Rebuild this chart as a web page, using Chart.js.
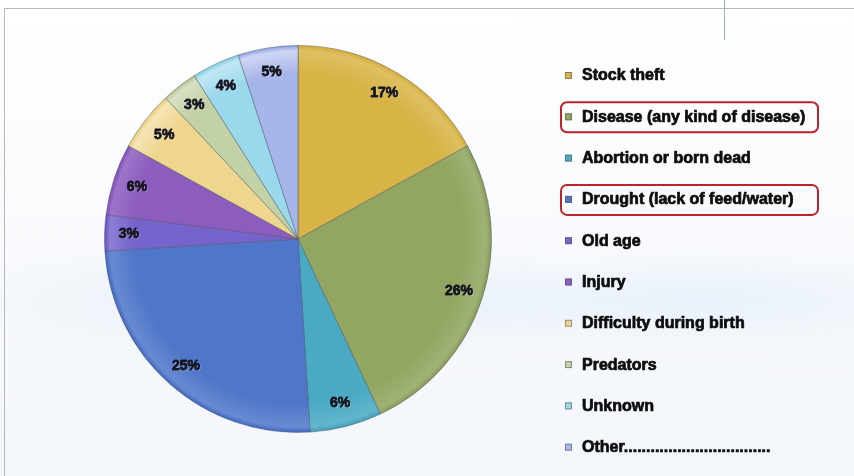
<!DOCTYPE html>
<html>
<head>
<meta charset="utf-8">
<script src="https://cdn.jsdelivr.net/npm/chart.js@4/dist/chart.umd.min.js"></script>
<style>
  html, body { margin: 0; padding: 0; }
  body {
    width: 854px; height: 476px; overflow: hidden; position: relative;
    background:
      radial-gradient(ellipse 520px 90px at 300px 300px, rgba(220,232,246,0.55), rgba(255,255,255,0) 70%),
      radial-gradient(ellipse 420px 70px at 700px 300px, rgba(222,236,248,0.6), rgba(255,255,255,0) 70%),
      linear-gradient(180deg, #ffffff 0%, #f7f9fc 60%, #f3f6fb 100%);
  }
  #cadre {
    position: absolute; left: 4px; top: 8px; width: 860px; height: 480px;
    border-top: 1px solid #b8b8b8; border-left: 1px solid #b8b8b8;
  }
  #trait {
    position: absolute; left: 724px; top: 0; width: 1px; height: 40px; background: #9fb3c8;
  }
  canvas { position: absolute; left: 0; top: 0; }
</style>
</head>
<body>
<div id="cadre"></div>
<div id="trait"></div>
<canvas id="graphique" width="854" height="476"></canvas>
<script>
const categories = [
  'Stock theft',
  'Disease (any kind of disease)',
  'Abortion or born dead',
  'Drought (lack of feed/water)',
  'Old age',
  'Injury',
  'Difficulty during birth',
  'Predators',
  'Unknown',
  'Other.................................'
];
const pourcentages = [17, 26, 6, 25, 3, 6, 5, 3, 4, 5];
const couleurs = [
  '#d8b446', '#92a661', '#4aaac4', '#4f76c9', '#7763cc',
  '#8c5cbf', '#efd68e', '#c3d2a6', '#9ad8ec', '#a7b6ea'
];
// legend entries that get a red frame
const encadres = [1, 3];

// slice fill: a little darker toward the centre, lighter at the rim
function remplissage(context) {
  const chart = context.chart;
  const area = chart.chartArea;
  const base = couleurs[context.dataIndex];
  if (!area) return base;
  const cx = (area.left + area.right) / 2;
  const cy = (area.top + area.bottom) / 2;
  const r = Math.min(area.right - area.left, area.bottom - area.top) / 2;
  const g = chart.ctx.createRadialGradient(cx, cy, 0, cx, cy, r);
  g.addColorStop(0, base);
  g.addColorStop(0.85, base);
  g.addColorStop(0.97, Chart.helpers.color(base).lighten(0.12).hexString());
  g.addColorStop(1, Chart.helpers.color(base).darken(0.1).hexString());
  return g;
}

const etiquettes = {
  id: 'etiquettes',
  afterDatasetsDraw(chart) {
    const ctx = chart.ctx;
    const arcs = chart.getDatasetMeta(0).data;
    ctx.save();
    ctx.font = 'bold 14px "Liberation Sans", Arial, sans-serif';
    ctx.textAlign = 'center';
    ctx.textBaseline = 'middle';
    ctx.lineJoin = 'round';
    arcs.forEach((arc, i) => {
      const p = arc.getProps(['x', 'y', 'startAngle', 'endAngle', 'outerRadius'], true);
      const milieu = (p.startAngle + p.endAngle) / 2;
      const r = p.outerRadius * 0.875;
      const x = p.x + Math.cos(milieu) * r;
      const y = p.y + Math.sin(milieu) * r;
      const texte = pourcentages[i] + '%';
      ctx.fillStyle = 'rgba(255,255,255,0.3)';
      ctx.fillText(texte, x + 1, y + 1);
      ctx.strokeStyle = '#14141e';
      ctx.lineWidth = 0.8;
      ctx.strokeText(texte, x, y);
      ctx.fillStyle = '#14141e';
      ctx.fillText(texte, x, y);
    });
    ctx.restore();
  }
};

const legende = {
  id: 'legende',
  afterDraw(chart) {
    const ctx = chart.ctx;
    const x0 = 565, y0 = 76, pas = 41.3;
    ctx.save();
    ctx.font = 'bold 16px "Liberation Sans", Arial, sans-serif';
    ctx.textBaseline = 'middle';
    ctx.lineJoin = 'round';
    categories.forEach((nom, i) => {
      const y = y0 + i * pas;
      ctx.fillStyle = couleurs[i];
      ctx.fillRect(x0, y - 4, 7, 7);
      ctx.strokeStyle = 'rgba(90,90,90,0.6)';
      ctx.lineWidth = 1;
      ctx.strokeRect(x0 + 0.5, y - 3.5, 6, 6);
      ctx.strokeStyle = '#0c0c0c';
      ctx.lineWidth = 0.7;
      ctx.strokeText(nom, 582, y);
      ctx.fillStyle = '#0c0c0c';
      ctx.fillText(nom, 582, y);
      if (encadres.includes(i)) {
        ctx.strokeStyle = '#c0222b';
        ctx.lineWidth = 2;
        ctx.beginPath();
        ctx.roundRect(561, y - 15, 257, 30, 6);
        ctx.stroke();
      }
    });
    ctx.restore();
  }
};

new Chart(document.getElementById('graphique').getContext('2d'), {
  type: 'pie',
  data: {
    labels: categories,
    datasets: [{
      data: pourcentages,
      backgroundColor: remplissage,
      borderColor: 'rgba(70,80,90,0.45)',
      borderWidth: 1
    }]
  },
  options: {
    responsive: false,
    animation: false,
    layout: { padding: { left: 104, top: 45, right: 362, bottom: 43 } },
    plugins: {
      legend: { display: false },
      tooltip: { enabled: false }
    }
  },
  plugins: [etiquettes, legende]
});
</script>
</body>
</html>
